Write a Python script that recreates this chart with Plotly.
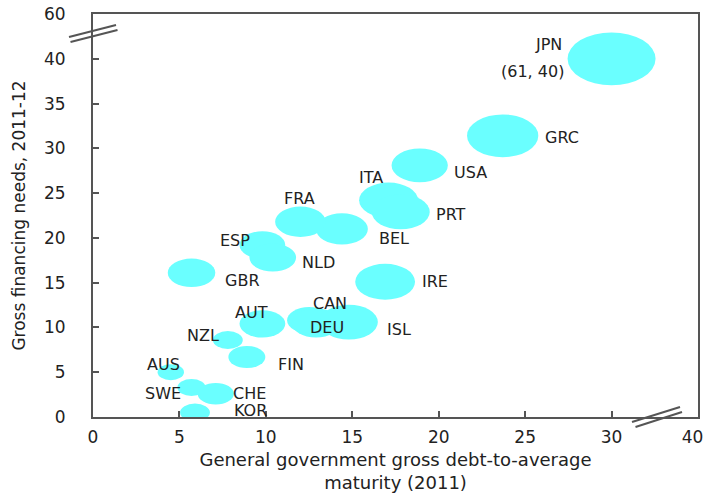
import plotly.graph_objects as go

# Country codes
countries = ["JPN", "GRC", "USA", "ITA", "PRT", "BEL", "FRA", "ESP", "NLD", "GBR", "IRE",
             "AUT", "CAN", "DEU", "ISL", "NZL", "FIN", "AUS", "SWE", "CHE", "KOR"]
# General government gross debt-to-average maturity (2011); JPN is drawn past the axis break
maturity = [30.0, 23.7, 18.9, 17.1, 17.8, 14.4, 12.0, 9.8, 10.4, 5.7, 16.9,
            9.8, 12.5, 12.9, 14.8, 7.8, 8.9, 4.5, 5.7, 7.1, 5.9]
# Gross financing needs, 2011-12
financing = [40.0, 31.4, 28.1, 24.2, 22.9, 21.0, 21.8, 19.2, 17.8, 16.1, 15.1,
             10.4, 10.8, 10.5, 10.6, 8.6, 6.7, 5.0, 3.3, 2.6, 0.5]
# relative bubble size
bubble = [10.0, 8.1, 6.4, 6.7, 6.6, 5.9, 5.75, 5.2, 5.3, 5.4, 6.8,
          5.2, 5.0, 5.5, 6.6, 3.4, 4.2, 3.0, 3.2, 4.1, 3.4]

x_ticks = [0, 5, 10, 15, 20, 25, 30, 35]
x_tick_text = ["0", "5", "10", "15", "20", "25", "30", "40\u00a0\u00a0"]
y_ticks = [0, 5, 10, 15, 20, 25, 30, 35, 40, 45]
y_tick_text = ["0", "5", "10", "15", "20", "25", "30", "35", "40", "60"]

FONT = "DejaVu Sans"
TEXT = "#222222"
CYAN = "#6AFFFF"
AXIS = "#555555"
PX_PER_SIZE = 4.4
ASPECT = 0.6

# label anchor and pixel offset from the bubble centre
label_pos = {
    "JPN": ("right", -48, 14), "GRC": ("left", 40, -2), "USA": ("left", 32, -7),
    "ITA": ("center", -18, 23), "PRT": ("left", 33, -3), "BEL": ("center", 52, -10),
    "FRA": ("center", -1, 23), "ESP": ("right", -10, 5), "NLD": ("left", 27, -5),
    "GBR": ("left", 31, -8), "IRE": ("left", 35, 0), "AUT": ("center", -11, 11),
    "CAN": ("center", 21, 17), "DEU": ("center", 11, -5), "ISL": ("left", 36, -7),
    "NZL": ("right", -7, 4), "FIN": ("left", 29, -7), "AUS": ("right", 11, 8),
    "SWE": ("right", -9, -6), "CHE": ("left", 15, 0), "KOR": ("left", 37, 2),
}

fig = go.Figure()
fig.add_trace(go.Scatter(x=maturity, y=financing, mode="markers", text=countries,
                         marker=dict(size=1, opacity=0), hoverinfo="text+x+y",
                         showlegend=False))

shapes = []
for x, y, s in zip(maturity, financing, bubble):
    rx = s * PX_PER_SIZE
    ry = rx * ASPECT
    shapes.append(dict(type="circle", xref="x", yref="y",
                       xsizemode="pixel", ysizemode="pixel", xanchor=x, yanchor=y,
                       x0=-rx, x1=rx, y0=-ry, y1=ry,
                       fillcolor=CYAN, line=dict(width=0), layer="below"))

# axis break marks
for off in (0, 5):
    shapes.append(dict(type="line", xref="paper", yref="paper",
                       xsizemode="pixel", ysizemode="pixel", xanchor=0, yanchor=1,
                       x0=-24 + off * 0.3, y0=-23 - off, x1=23 + off * 0.3, y1=-11 - off,
                       line=dict(color=AXIS, width=2)))
    shapes.append(dict(type="line", xref="paper", yref="paper",
                       xsizemode="pixel", ysizemode="pixel", xanchor=1, yanchor=0,
                       x0=-66 + off * 0.7, y0=-5 - off, x1=-18 + off * 0.4, y1=10 - off,
                       line=dict(color=AXIS, width=2)))

annotations = []
for c, x, y in zip(countries, maturity, financing):
    anchor, dx, dy = label_pos[c]
    annotations.append(dict(x=x, y=y, xref="x", yref="y", text=c, showarrow=False,
                            xanchor=anchor, yanchor="middle", xshift=dx, yshift=dy,
                            font=dict(family=FONT, size=16, color=TEXT)))
    if c == "JPN":
        annotations.append(dict(x=x, y=y, xref="x", yref="y", text="(61, 40)",
                                showarrow=False, xanchor="right", yanchor="middle",
                                xshift=dx + 2, yshift=-13,
                                font=dict(family=FONT, size=16, color=TEXT)))

axis_common = dict(showgrid=False, zeroline=False, showline=True, linecolor=AXIS,
                   linewidth=2, mirror=True, ticks="inside", ticklen=6, tickwidth=2,
                   tickcolor=AXIS, tickfont=dict(family=FONT, size=17, color=TEXT),
                   ticklabeloverflow="allow", automargin=False)

fig.update_layout(
    width=705, height=493,
    margin=dict(l=93, r=7, t=14, b=76),
    plot_bgcolor="white", paper_bgcolor="white",
    shapes=shapes, annotations=annotations,
    xaxis=dict(range=[0, 35], tickvals=x_ticks, ticktext=x_tick_text,
               ticklabelstandoff=4,
               title=dict(text="General government gross debt-to-average<br>maturity (2011)",
                          font=dict(family=FONT, size=18, color=TEXT), standoff=17),
               **axis_common),
    yaxis=dict(range=[0, 45], tickvals=y_ticks, ticktext=y_tick_text,
               ticklabelstandoff=22,
               title=dict(text="Gross financing needs, 2011-12",
                          font=dict(family=FONT, size=17, color=TEXT), standoff=14),
               **axis_common),
)

fig.write_html("out.html", config={"displayModeBar": False},
               post_script="document.body.style.margin='0';")
